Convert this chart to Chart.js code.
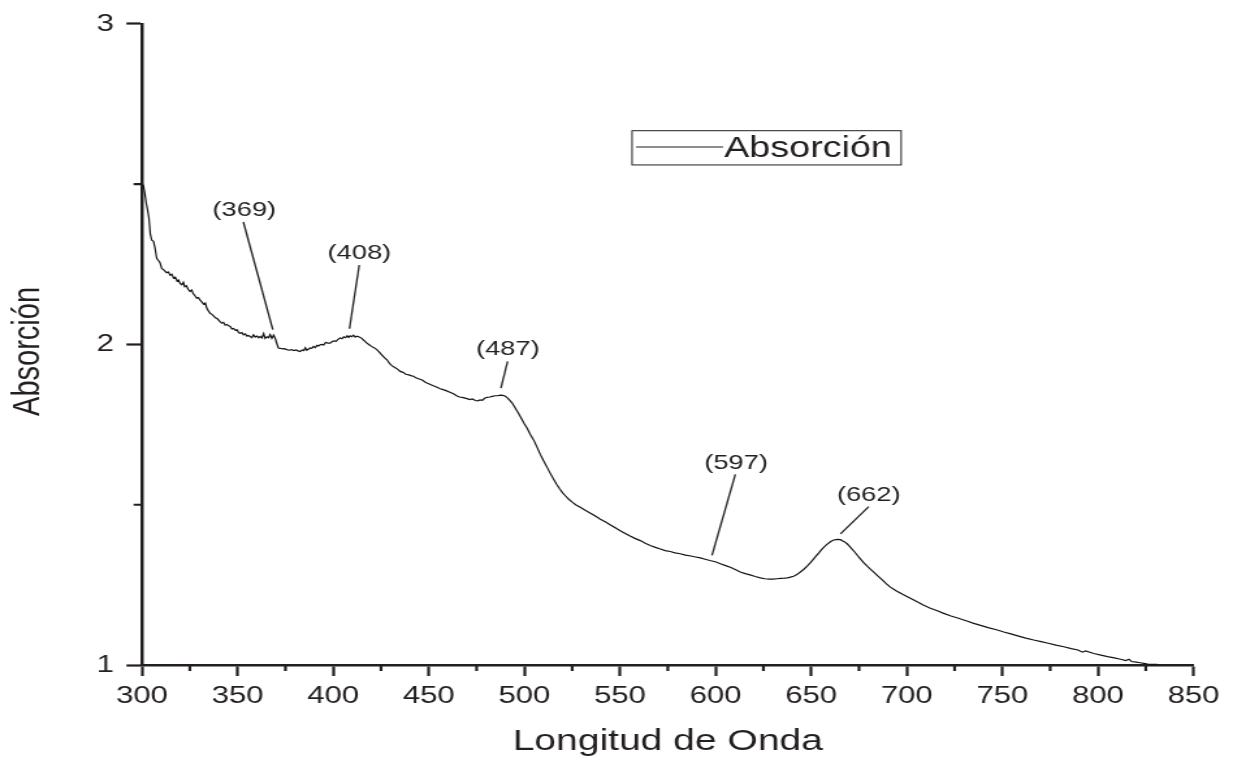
<!DOCTYPE html>
<html lang="es">
<head>
<meta charset="utf-8">
<title>Absorción</title>
<script src="https://cdn.jsdelivr.net/npm/chart.js@4.4.1/dist/chart.umd.min.js"></script>
<style>
  html, body { margin: 0; padding: 0; background: #fff; overflow: hidden; }
  #wrap { width: 1233px; height: 761px; }
  canvas { display: block; }
</style>
</head>
<body>
<div id="wrap">
  <!-- drawn on a 948px-wide canvas and shown 1233px wide (horizontal stretch of the whole figure) -->
  <canvas id="chart" width="948" height="761" style="width:1233px;height:761px"></canvas>
</div>
<script>
// ---- spectrum: wavelength (nm) and absorbance ----
const wavelengths = [
  300.0, 300.7, 301.5, 302.2, 302.8, 303.6, 304.3, 305.1, 306.0, 306.8,
  307.7, 308.6, 309.4, 310.3, 311.5, 312.8, 313.8, 314.7, 315.6, 316.5,
  317.4, 318.3, 319.1, 319.9, 320.8, 321.6, 322.3, 323.2, 324.1, 325.1,
  326.0, 326.8, 327.7, 328.6, 329.5, 330.4, 331.3, 332.2, 333.1, 333.9,
  334.8, 335.6, 336.6, 337.5, 338.4, 339.4, 340.8, 341.7, 342.6, 343.5,
  344.4, 345.3, 346.1, 347.0, 347.9, 348.8, 349.7, 350.5, 351.3, 352.2,
  353.1, 354.0, 354.9, 355.7, 356.5, 357.4, 358.3, 359.2, 360.1, 361.0,
  361.8, 362.7, 363.6, 364.4, 365.3, 366.2, 367.0, 367.9, 368.8, 369.6,
  370.5, 371.3, 372.2, 373.5, 374.5, 375.7, 377.0, 378.2, 379.4, 380.6,
  381.6, 382.7, 383.8, 384.6, 385.4, 386.2, 387.0, 387.9, 388.8, 389.7,
  390.6, 391.5, 392.3, 393.1, 394.0, 395.0, 396.0, 397.2, 398.4, 399.5,
  400.5, 401.5, 402.5, 403.6, 404.6, 405.5, 406.4, 407.3, 408.1, 408.8,
  409.7, 410.6, 411.5, 412.4, 413.3, 414.1, 415.0, 415.9, 416.8, 417.6,
  418.8, 420.0, 421.3, 422.8, 424.2, 425.6, 426.9, 428.1, 429.4, 430.8,
  432.2, 433.6, 435.0, 436.5, 438.0, 439.5, 441.0, 442.0, 443.5, 445.0,
  446.5, 448.0, 449.0, 450.5, 452.0, 454.0, 455.9, 457.5, 459.0, 461.0,
  462.9, 464.5, 466.0, 468.0, 469.9, 471.5, 472.8, 474.3, 475.6, 476.8,
  478.0, 479.2, 480.4, 481.8, 483.2, 484.6, 486.0, 487.3, 488.7, 489.8,
  490.8, 492.0, 493.5, 495.2, 496.8, 498.5, 500.0, 501.3, 503.0, 505.0,
  506.7, 508.3, 510.0, 512.0, 513.6, 515.2, 516.8, 518.5, 520.0, 521.4,
  523.2, 525.0, 527.0, 529.2, 532.0, 535.0, 537.5, 539.7, 542.5, 545.0,
  547.5, 550.1, 552.5, 555.0, 557.8, 560.6, 563.2, 565.8, 568.5, 571.1,
  573.6, 576.2, 578.8, 581.5, 584.2, 587.0, 589.5, 592.0, 594.5, 597.0,
  599.8, 602.5, 605.2, 608.0, 610.5, 612.9, 615.5, 618.0, 620.7, 623.4,
  625.8, 628.0, 630.0, 632.1, 634.0, 636.0, 637.6, 639.1, 640.8, 642.5,
  644.3, 646.0, 648.0, 649.7, 651.3, 652.7, 654.0, 655.3, 656.5, 657.8,
  659.0, 660.4, 661.8, 663.5, 665.3, 666.5, 667.5, 668.6, 669.6, 671.0,
  672.5, 674.0, 675.7, 677.3, 679.0, 680.8, 682.7, 684.8, 687.0, 689.2,
  691.4, 694.6, 698.0, 701.6, 705.4, 708.6, 712.0, 715.6, 719.3, 723.1,
  727.0, 731.0, 735.0, 739.0, 743.0, 746.9, 750.7, 754.4, 758.0, 762.2,
  766.4, 770.2, 774.0, 778.0, 782.1, 786.0, 789.5, 791.8, 793.5, 797.8,
  801.5, 805.0, 808.5, 811.8, 814.5, 816.2, 817.5, 820.0, 822.0, 824.0,
  826.0, 828.0, 831.0
];
const absorbance = [
  2.500, 2.496, 2.470, 2.440, 2.423, 2.395, 2.345, 2.325, 2.322, 2.300,
  2.268, 2.262, 2.255, 2.237, 2.232, 2.224, 2.226, 2.216, 2.219, 2.207,
  2.210, 2.198, 2.201, 2.190, 2.186, 2.194, 2.180, 2.183, 2.172, 2.165,
  2.170, 2.158, 2.152, 2.144, 2.146, 2.138, 2.132, 2.126, 2.129, 2.113,
  2.104, 2.097, 2.094, 2.088, 2.083, 2.080, 2.071, 2.066, 2.069, 2.060,
  2.062, 2.058, 2.056, 2.048, 2.050, 2.044, 2.046, 2.037, 2.035, 2.037,
  2.030, 2.033, 2.026, 2.028, 2.025, 2.021, 2.030, 2.023, 2.026, 2.021,
  2.025, 2.020, 2.034, 2.019, 2.024, 2.021, 2.031, 2.019, 2.029, 2.020,
  2.003, 1.989, 1.988, 1.986, 1.987, 1.984, 1.982, 1.984, 1.981, 1.983,
  1.980, 1.978, 1.983, 1.981, 1.990, 1.982, 1.985, 1.989, 1.988, 1.994,
  1.990, 1.997, 1.995, 1.999, 2.000, 1.998, 2.006, 2.004, 2.004, 2.009,
  2.011, 2.010, 2.016, 2.020, 2.018, 2.024, 2.021, 2.027, 2.022, 2.027,
  2.024, 2.029, 2.023, 2.026, 2.024, 2.022, 2.019, 2.013, 2.009, 2.004,
  1.999, 1.994, 1.990, 1.984, 1.975, 1.966, 1.958, 1.952, 1.941, 1.933,
  1.928, 1.923, 1.916, 1.913, 1.907, 1.905, 1.902, 1.901, 1.895, 1.892,
  1.889, 1.883, 1.880, 1.876, 1.872, 1.867, 1.862, 1.859, 1.856, 1.851,
  1.846, 1.840, 1.836, 1.834, 1.831, 1.828, 1.830, 1.825, 1.824, 1.827,
  1.826, 1.832, 1.835, 1.836, 1.838, 1.840, 1.840, 1.842, 1.841, 1.839,
  1.835, 1.828, 1.818, 1.802, 1.786, 1.768, 1.752, 1.740, 1.720, 1.700,
  1.678, 1.657, 1.637, 1.615, 1.597, 1.580, 1.564, 1.549, 1.537, 1.528,
  1.517, 1.508, 1.499, 1.492, 1.482, 1.472, 1.463, 1.455, 1.446, 1.437,
  1.428, 1.419, 1.411, 1.403, 1.395, 1.388, 1.380, 1.373, 1.367, 1.362,
  1.357, 1.354, 1.350, 1.347, 1.343, 1.340, 1.337, 1.334, 1.330, 1.326,
  1.322, 1.316, 1.310, 1.304, 1.297, 1.290, 1.285, 1.281, 1.276, 1.272,
  1.269, 1.268, 1.268, 1.269, 1.270, 1.271, 1.272, 1.274, 1.277, 1.282,
  1.290, 1.298, 1.309, 1.320, 1.331, 1.341, 1.350, 1.359, 1.367, 1.374,
  1.380, 1.386, 1.390, 1.392, 1.391, 1.387, 1.384, 1.379, 1.373, 1.364,
  1.354, 1.343, 1.331, 1.320, 1.310, 1.300, 1.290, 1.278, 1.266, 1.254,
  1.243, 1.231, 1.220, 1.209, 1.197, 1.187, 1.178, 1.170, 1.161, 1.153,
  1.146, 1.138, 1.130, 1.123, 1.116, 1.110, 1.103, 1.097, 1.091, 1.084,
  1.078, 1.073, 1.068, 1.062, 1.057, 1.051, 1.047, 1.040, 1.044, 1.036,
  1.031, 1.026, 1.022, 1.018, 1.014, 1.018, 1.011, 1.009, 1.007, 1.005,
  1.003, 1.002, 1.002
];

// ---- axes ----
const xMin = 300, xMax = 850, xStep = 50;
const yMin = 1, yMax = 3, yStep = 1;
const xMinorTicks = [325, 375, 425, 475, 525, 575, 625, 675, 725, 775, 825];
const yMinorTicks = [1.5, 2.5];
const xTitle = 'Longitud de Onda';
const yTitle = 'Absorción';

// ---- peak labels with leader lines (nm, absorbance) ----
const peakText      = ['(369)', '(408)', '(487)', '(597)', '(662)'];
const peakTextNm    = [353.5, 413.7, 491.3, 610.7, 680.1];
const peakTextAbs   = [2.418, 2.284, 1.986, 1.631, 1.530];
const leaderTopNm   = [353.0, 413.6, 491.2, 610.3, 680.1];
const leaderTopAbs  = [2.382, 2.248, 1.947, 1.595, 1.494];
const leaderEndNm   = [368.4, 408.5, 487.7, 598.1, 665.3];
const leaderEndAbs  = [2.046, 2.049, 1.864, 1.342, 1.409];

const seriesName = 'Absorción';
const ink = '#231f20';
const family = "'Liberation Sans', Arial, Helvetica, sans-serif";

// short minor tick marks on both axes
const minorTicksPlugin = {
  id: 'minorTicks',
  afterDraw(chart) {
    const { ctx, chartArea, scales } = chart;
    ctx.save();
    ctx.strokeStyle = ink;
    ctx.lineWidth = 2.2;
    ctx.lineCap = 'butt';
    ctx.beginPath();
    xMinorTicks.forEach(v => {
      const px = scales.x.getPixelForValue(v);
      ctx.moveTo(px, chartArea.bottom);
      ctx.lineTo(px, chartArea.bottom + 6);
    });
    yMinorTicks.forEach(v => {
      const py = scales.y.getPixelForValue(v);
      ctx.moveTo(chartArea.left, py);
      ctx.lineTo(chartArea.left - 6.5, py);
    });
    ctx.stroke();
    ctx.restore();
  }
};

// vertical axis title, sitting slightly below the axis midpoint
const yTitlePlugin = {
  id: 'yTitle',
  afterDraw(chart) {
    const { ctx, chartArea } = chart;
    ctx.save();
    ctx.translate(22.3, (chartArea.top + chartArea.bottom) / 2 + 7);
    ctx.rotate(-Math.PI / 2);
    ctx.fillStyle = ink;
    ctx.font = `29px ${family}`;
    ctx.textAlign = 'center';
    ctx.textBaseline = 'middle';
    ctx.fillText(yTitle, 0, 0);
    ctx.restore();
  }
};

// peak wavelength labels and their leader lines
const peakPlugin = {
  id: 'peakMarks',
  afterDatasetsDraw(chart) {
    const { ctx, scales } = chart;
    ctx.save();
    ctx.strokeStyle = ink;
    ctx.lineWidth = 1.3;
    ctx.fillStyle = ink;
    ctx.font = `21px ${family}`;
    ctx.textAlign = 'center';
    ctx.textBaseline = 'middle';
    peakText.forEach((t, i) => {
      ctx.fillText(t, scales.x.getPixelForValue(peakTextNm[i]), scales.y.getPixelForValue(peakTextAbs[i]));
      ctx.beginPath();
      ctx.moveTo(scales.x.getPixelForValue(leaderTopNm[i]), scales.y.getPixelForValue(leaderTopAbs[i]));
      ctx.lineTo(scales.x.getPixelForValue(leaderEndNm[i]), scales.y.getPixelForValue(leaderEndAbs[i]));
      ctx.stroke();
    });
    ctx.restore();
  }
};

// boxed legend inside the plot area
const legendBoxPlugin = {
  id: 'legendBox',
  afterDraw(chart) {
    const { ctx, chartArea: a } = chart;
    const w = a.right - a.left, h = a.bottom - a.top;
    const bx0 = a.left + 0.466 * w, bx1 = a.left + 0.7219 * w;
    const by0 = a.top + 0.1666 * h, by1 = a.top + 0.220 * h;
    const lx0 = a.left + 0.4698 * w, lx1 = a.left + 0.5526 * w;
    const ly = (by0 + by1) / 2 - 0.8;
    ctx.save();
    ctx.strokeStyle = ink;
    ctx.lineWidth = 1;
    ctx.strokeRect(bx0, by0, bx1 - bx0, by1 - by0);
    ctx.beginPath();
    ctx.moveTo(lx0, ly);
    ctx.lineTo(lx1, ly);
    ctx.lineWidth = 1.1;
    ctx.stroke();
    ctx.fillStyle = ink;
    ctx.font = `29px ${family}`;
    ctx.textAlign = 'left';
    ctx.textBaseline = 'alphabetic';
    ctx.fillText(chart.data.datasets[0].label, lx1 + 0.8, a.top + 0.208 * h);
    ctx.restore();
  }
};

new Chart(document.getElementById('chart'), {
  type: 'line',
  data: {
    datasets: [{
      label: seriesName,
      data: wavelengths.map((w, i) => ({ x: w, y: absorbance[i] })),
      borderColor: '#141414',
      borderWidth: 1.2,
      pointRadius: 0,
      tension: 0,
      fill: false
    }]
  },
  options: {
    responsive: false,
    animation: false,
    devicePixelRatio: 1,
    layout: { padding: { left: 0, top: 21, right: 30.3, bottom: 0 } },
    plugins: { legend: { display: false }, tooltip: { enabled: false } },
    scales: {
      x: {
        type: 'linear',
        min: xMin, max: xMax,
        afterFit(s) { s.height = 96; },
        ticks: { stepSize: xStep, padding: 6, color: ink, maxRotation: 0, autoSkip: false,
                 font: { family, size: 24 } },
        grid: { display: true, drawOnChartArea: false, drawTicks: true, tickLength: 11,
                tickWidth: 2.2, tickColor: ink, color: ink },
        border: { display: true, color: ink, width: 2.5 },
        title: { display: true, text: xTitle, color: ink,
                 font: { family, size: 30 }, padding: { top: 0, bottom: 1.5 } }
      },
      y: {
        type: 'linear',
        min: yMin, max: yMax,
        afterFit(s) { s.width = 109.2; },
        ticks: { stepSize: yStep, padding: 9.5, color: ink, font: { family, size: 24 } },
        grid: { display: true, drawOnChartArea: false, drawTicks: true, tickLength: 12,
                tickWidth: 2.2, tickColor: ink, color: ink },
        border: { display: true, color: ink, width: 2.5 },
        title: { display: false }
      }
    }
  },
  plugins: [minorTicksPlugin, yTitlePlugin, peakPlugin, legendBoxPlugin]
});
</script>
</body>
</html>
